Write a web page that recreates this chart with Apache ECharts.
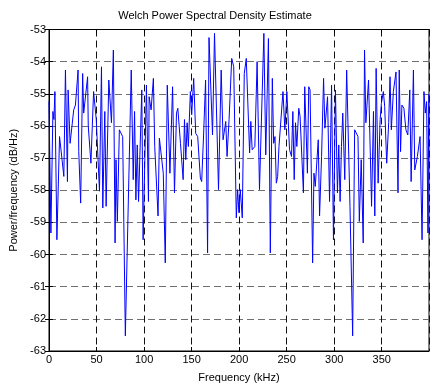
<!DOCTYPE html>
<html>
<head>
<meta charset="utf-8">
<script src="https://cdn.jsdelivr.net/npm/echarts@6/dist/echarts.min.js"></script>
<style>
  html, body { margin: 0; padding: 0; background: #fff; }
  #chart { width: 430px; height: 388px; }
</style>
</head>
<body>
<div id="chart"></div>
<script>
// frequency (kHz) of each vertex of the PSD trace
const freqKHz = [
  0.0, 2.0, 4.1, 5.2, 6.2, 8.3, 11.1, 15.6, 17.3, 19.4, 20.1, 22.2, 26.0, 27.8, 30.6, 31.3, 33.3, 35.4, 36.5, 40.6,
  41.3, 44.1, 46.9, 49.7, 53.1, 55.2, 56.6, 58.7, 60.1, 62.9, 65.7, 67.7, 69.5, 70.5, 71.9, 74.0, 76.1, 77.5, 80.3, 86.5,
  88.6, 90.0, 91.4, 92.8, 94.2, 97.6, 99.0, 102.5, 104.6, 105.3, 107.4, 109.8, 111.2, 114.7, 116.1, 120.2, 122.3, 124.4, 125.8, 127.2,
  130.0, 132.0, 134.1, 135.5, 138.3, 141.1, 142.5, 143.9, 145.3, 146.6, 148.7, 150.1, 152.2, 154.3, 156.4, 159.2, 160.6, 162.6, 164.7, 166.8,
  168.3, 172.0, 174.1, 178.3, 181.1, 183.1, 185.9, 187.3, 189.4, 192.2, 194.3, 197.0, 198.4, 199.8, 201.2, 203.3, 205.4, 207.5, 211.0, 212.3,
  213.7, 216.5, 218.9, 221.4, 226.0, 228.0, 230.8, 232.8, 234.9, 236.3, 237.7, 239.1, 240.5, 241.9, 244.0, 246.1, 248.1, 250.2, 253.0, 255.1,
  256.5, 257.9, 259.3, 260.7, 262.7, 264.1, 267.6, 269.0, 271.8, 273.2, 274.6, 277.3, 278.7, 280.1, 283.2, 284.6, 286.7, 288.8, 290.2, 293.0,
  295.1, 297.2, 299.2, 301.3, 303.4, 304.8, 306.2, 307.6, 309.0, 311.1, 313.1, 316.6, 319.4, 321.5, 323.6, 325.0, 326.4, 328.4, 330.5, 331.9,
  333.3, 336.1, 339.3, 341.3, 342.7, 344.1, 346.2, 348.3, 349.6, 351.7, 353.1, 355.2, 357.3, 358.7, 360.1, 362.2, 363.6, 365.0, 367.1, 368.4,
  369.8, 371.2, 373.3, 375.4, 377.4, 379.5, 380.9, 383.3, 384.7, 387.5, 390.3, 392.4, 394.4, 395.8, 397.2, 398.6, 399.5
];

// power/frequency (dB/Hz) at each vertex
const psdDb = [
  -55.24, -59.33, -55.55, -55.8, -54.93, -59.54, -56.33, -57.57, -54.26, -57.73, -54.88, -56.54, -55.5, -55.35, -54.26, -56.8, -58.4, -54.37, -55.6, -54.47,
  -56.0, -57.16, -54.93, -55.8, -58.03, -54.16, -58.55, -55.55, -58.5, -54.57, -55.9, -53.64, -59.64, -57.05, -58.97, -56.12, -56.07, -56.33, -62.53, -54.26,
  -57.67, -55.55, -58.3, -56.59, -58.35, -54.88, -59.54, -54.73, -58.35, -55.09, -55.5, -54.52, -56.64, -58.8, -56.38, -57.47, -60.26, -54.73, -54.68, -57.47,
  -54.78, -58.08, -55.6, -55.45, -56.54, -57.67, -55.8, -57.05, -55.9, -56.64, -54.93, -55.65, -54.52, -56.23, -56.33, -57.62, -57.73, -56.28, -54.57, -59.95,
  -53.25, -56.28, -53.12, -57.98, -54.26, -56.43, -55.86, -56.95, -55.8, -53.9, -54.16, -58.86, -57.98, -58.7, -57.98, -58.86, -54.37, -53.9, -56.84, -55.86,
  -56.74, -56.64, -54.0, -57.98, -53.12, -56.9, -53.28, -59.95, -54.52, -56.54, -56.33, -57.78, -57.57, -56.64, -56.64, -54.93, -56.12, -54.93, -56.74, -56.95,
  -55.55, -57.67, -55.9, -56.64, -55.45, -55.7, -58.08, -54.78, -57.47, -54.78, -54.88, -60.26, -57.47, -57.88, -56.43, -58.8, -56.95, -54.52, -56.07, -55.09,
  -58.35, -54.73, -59.54, -54.88, -58.08, -56.59, -58.35, -56.64, -55.6, -57.67, -54.26, -58.5, -62.53, -56.12, -56.07, -56.33, -58.97, -57.05, -59.64, -53.64,
  -55.9, -54.57, -58.5, -55.55, -58.8, -54.21, -57.78, -55.8, -55.3, -54.93, -55.4, -57.16, -55.9, -54.47, -56.12, -54.93, -54.93, -54.32, -58.08, -54.26,
  -56.8, -55.35, -55.45, -56.12, -56.28, -54.88, -57.73, -54.26, -57.37, -56.95, -56.33, -59.54, -54.93, -55.6, -55.24, -59.33, -55.0
];

const xTicks = [0, 50, 100, 150, 200, 250, 300, 350];
const yTicks = [-63, -62, -61, -60, -59, -58, -57, -56, -55, -54, -53];

const font = 'Arial, "Liberation Sans", sans-serif';
const chart = echarts.init(document.getElementById('chart'));

const xRange = { type: 'value', min: 0, max: 399.7, interval: 50 };
const yRange = { type: 'value', min: yTicks[0], max: yTicks[yTicks.length - 1], interval: 1 };
const innerTick = { show: true, inside: true, length: 4, lineStyle: { color: '#000' } };

chart.setOption({
  animation: false,
  title: {
    text: 'Welch Power Spectral Density Estimate',
    left: 'center',
    top: 5,
    textStyle: { fontFamily: font, fontSize: 11, fontWeight: 'normal', color: '#000' }
  },
  grid: { left: 46.5, top: 29.5, right: 1, bottom: 36.5, show: true, borderColor: '#000', borderWidth: 1 },
  xAxis: [{
    ...xRange,
    name: 'Frequency (kHz)',
    nameLocation: 'middle',
    nameGap: 21,
    nameTextStyle: { fontFamily: font, fontSize: 11, color: '#000' },
    axisLine: { lineStyle: { color: '#000' } },
    axisTick: innerTick,
    axisLabel: {
      fontFamily: font, fontSize: 11, color: '#000', margin: 3,
      showMaxLabel: false,
      formatter: v => (xTicks.includes(v) ? String(v) : '')
    },
    splitLine: { show: true, lineStyle: { color: '#111', type: [7, 4], width: 1 } }
  }, {
    ...xRange,
    position: 'top',
    axisLine: { show: true, lineStyle: { color: '#000' } },
    axisTick: innerTick,
    axisLabel: { show: false },
    splitLine: { show: false }
  }],
  yAxis: [{
    ...yRange,
    name: 'Power/frequency (dB/Hz)',
    nameLocation: 'middle',
    nameGap: 30,
    nameTextStyle: { fontFamily: font, fontSize: 11, color: '#000' },
    axisLine: { show: true, lineStyle: { color: '#000' } },
    axisTick: innerTick,
    axisLabel: { fontFamily: font, fontSize: 11, color: '#000', margin: 3 },
    splitLine: { show: true, lineStyle: { color: '#707070', type: [7, 4], width: 1 } }
  }, {
    ...yRange,
    position: 'right',
    axisLine: { show: true, lineStyle: { color: '#000' } },
    axisTick: innerTick,
    axisLabel: { show: false },
    splitLine: { show: false }
  }],
  series: [{
    type: 'line',
    data: freqKHz.map((f, i) => [f, psdDb[i]]),
    showSymbol: false,
    lineStyle: { color: '#0000ff', width: 1 },
    itemStyle: { color: '#0000ff' }
  }]
});
</script>
</body>
</html>
